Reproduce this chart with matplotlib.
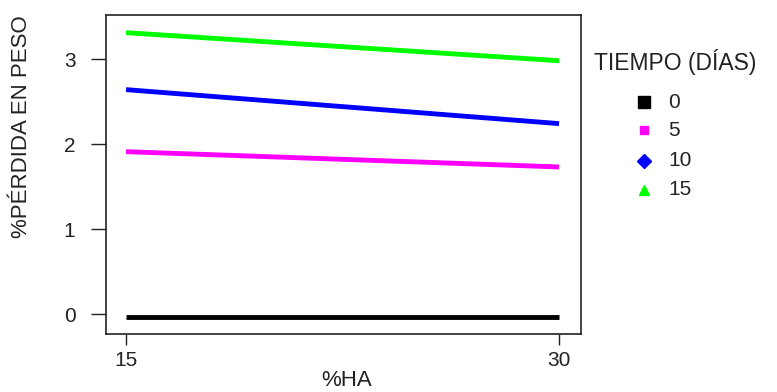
import matplotlib
matplotlib.use("Agg")
import matplotlib.pyplot as plt
from matplotlib.lines import Line2D

plt.rcParams['font.family'] = ['Liberation Sans', 'DejaVu Sans']

# Data
ha = [15, 30]
tiempos = ["0", "5", "10", "15"]
perdida_0 = [-0.04, -0.04]
perdida_5 = [1.91, 1.73]
perdida_10 = [2.64, 2.24]
perdida_15 = [3.31, 2.98]
colors = ["#000000", "#FF00FF", "#0000FF", "#00FF00"]
markers = ["s", "s", "D", "^"]
msizes = [8.5, 5.5, 7.5, 7.5]
xticks = [15, 30]
yticks = [0, 1, 2, 3]

W, H = 777, 392
fig = plt.figure(figsize=(W / 100, H / 100), dpi=100)
ax = fig.add_axes([106 / W, 1 - 334 / H, 475 / W, 319 / H])

series = [perdida_0, perdida_5, perdida_10, perdida_15]
for vals, c in zip(series, colors):
    ax.plot(ha, vals, color=c, lw=3.5, solid_capstyle='butt')

ax.set_xlim(14.307, 30.76)
ax.set_ylim(-0.235, 3.518)
ax.set_xticks(xticks)
ax.set_yticks(yticks)
ax.tick_params(axis='y', length=11, width=1, pad=11, labelsize=15, colors='#222222', labelcolor='#222222')
ax.tick_params(axis='x', length=8, width=1, pad=4, labelsize=15, colors='#222222', labelcolor='#222222')
for s in ax.spines.values():
    s.set_linewidth(1.2)
    s.set_color('#222222')

fig.text(22 / W, 1 - 127 / H, "%PÉRDIDA EN PESO", rotation=90, ha='center', va='center',
         fontsize=16, color='#222222')
fig.text(347 / W, 1 - 380 / H, "%HA", ha='center', va='center', fontsize=16, color='#222222')

# Legend (manual)
fig.text(594 / W, 1 - 62 / H, "TIEMPO (DÍAS)", ha='left', va='center', fontsize=16.5, color='#222222')
ys = [102, 130, 161, 190]
for lab, c, m, ms, y in zip(tiempos, colors, markers, msizes, ys):
    fig.add_artist(Line2D([644 / W], [1 - y / H], marker=m, color=c, markersize=ms,
                          linestyle='none', transform=fig.transFigure))
    fig.text(668 / W, 1 - y / H, lab, ha='left', va='center', fontsize=15, color='#222222')

fig.savefig("out.png", dpi=100)
